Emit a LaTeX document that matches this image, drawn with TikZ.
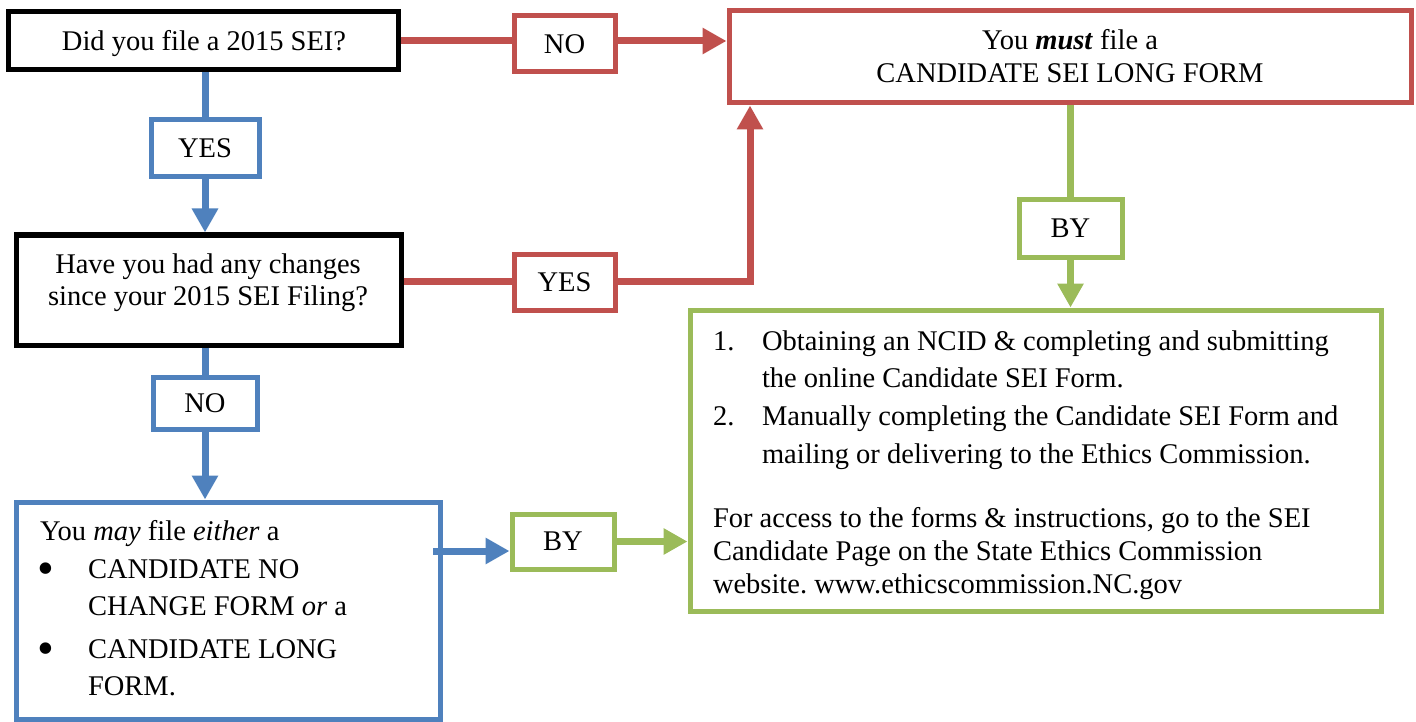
\documentclass[tikz,border=0pt]{standalone}
\usepackage{fontspec}
\setmainfont{Liberation Serif}
\usetikzlibrary{arrows.meta,fit,calc}
\definecolor{cred}{HTML}{C0504D}
\definecolor{cblue}{HTML}{4F81BD}
\definecolor{cgreen}{HTML}{9BBB59}
\frenchspacing
\begin{document}
\begin{tikzpicture}[x=1pt,y=-1pt,
  every node/.style={font=\fontsize{28.5}{34}\selectfont, inner sep=0pt, outer sep=0pt},
  box/.style={draw=#1, line width=5pt, fill=white, inner sep=0pt, outer sep=2.5pt},
  conn/.style={draw=#1, line width=7pt},
  arr/.style={conn=#1, -{Triangle[length=24pt,width=25pt]}},
  txt/.style={anchor=base},
  ltxt/.style={anchor=base west},
  lbl/.style={anchor=center},
  bul/.style={anchor=center, font=\fontsize{48}{48}\selectfont}]
\useasboundingbox (0,0) rectangle (1416,722);
% left column
\node[box=black, fit={(8,12)(398,70)}] (q1) {};
\node[txt] (q1t) at (204,51) {Did you file a 2015 SEI?};
\node[box=cblue, fit={(151,120)(259,177)}] (yb) {};
\node[lbl] (ybt) at (yb.center) {YES};
\node[box=black, fit={(16,235)(401,345)}] (q2) {};
\node[txt] (q2a) at (208,273) {Have you had any changes};
\node[txt] (q2b) at (208,305) {since your 2015 SEI Filing?};
\node[box=cblue, fit={(153,377)(257,429)}] (nb) {};
\node[lbl] (nbt) at (nb.center) {NO};
\node[box=cblue, fit={(16,502)(440,719)}] (opt) {};
\node[ltxt] (o0) at (40,540) {You \textit{may} file \textit{either} a};
\node[bul] (ob1) at (46,574) {\textbullet};
\node[ltxt] (o1) at (88,578) {CANDIDATE NO};
\node[ltxt] (o2) at (88,615) {CHANGE FORM \textit{or} a};
\node[bul] (ob2) at (46,654) {\textbullet};
\node[ltxt] (o3) at (88,658) {CANDIDATE LONG};
\node[ltxt] (o4) at (88,695) {FORM.};
% middle labels
\node[box=cred, fit={(514,16)(615,72)}] (nr) {};
\node[lbl] (nrt) at (nr.center) {NO};
\node[box=cred, fit={(514,254)(615,310)}] (yr) {};
\node[lbl] (yrt) at (yr.center) {YES};
\node[box=cgreen, fit={(512,514)(614,569)}] (bg2) {};
\node[lbl] (bg2t) at (bg2.center) {BY};
% right column
\node[box=cred, fit={(729,11)(1411,103)}] (must) {};
\node[txt] (m1) at (1070,50) {You \textbf{\textit{must}} file a};
\node[txt] (m2) at (1070,83) {CANDIDATE SEI LONG FORM};
\node[box=cgreen, fit={(1019,200)(1122,257)}] (bg1) {};
\node[lbl] (bg1t) at (bg1.center) {BY};
\node[box=cgreen, fit={(690,310)(1381,611)}] (how) {};
\node[ltxt] (n1) at (713,350) {1.};
\node[ltxt] (h1) at (762,350) {Obtaining an NCID \& completing and submitting};
\node[ltxt] (h2) at (762,387) {the online Candidate SEI Form.};
\node[ltxt] (n2) at (713,425) {2.};
\node[ltxt] (h3) at (762,425) {Manually completing the Candidate SEI Form and};
\node[ltxt] (h4) at (762,463) {mailing or delivering to the Ethics Commission.};
\node[ltxt] (p1) at (713,527) {For access to the forms \& instructions, go to the SEI};
\node[ltxt] (p2) at (713,560) {Candidate Page on the State Ethics Commission};
\node[ltxt] (p3) at (713,593) {website. www.ethicscommission.NC.gov};
% connectors
\draw[conn=cblue] (yb.north |- q1.south) -- (yb.north);
\draw[arr=cblue] (yb.south) -- (yb.south |- q2.north);
\draw[conn=cblue] (nb.north |- q2.south) -- (nb.north);
\draw[arr=cblue] (nb.south) -- (nb.south |- opt.north);
\coordinate (ostart) at (433,551);
\draw[arr=cblue] (ostart) -- (ostart -| bg2.west);
\draw[arr=cgreen] (bg2.east) -- (bg2.east -| how.west);
\draw[conn=cred] (q1.east) -- (q1.east -| nr.west);
\draw[arr=cred] (nr.east |- q1.east) -- (q1.east -| must.west);
\coordinate (yline) at (0,281);
\draw[conn=cred] (yline -| q2.east) -- (yline -| yr.west);
\coordinate (upx) at (750,0);
\draw[arr=cred] (yline -| yr.east) -| (must.south -| upx);
\draw[conn=cgreen] (must.south -| bg1.north) -- (bg1.north);
\draw[arr=cgreen] (bg1.south) -- (bg1.south |- how.north);
\end{tikzpicture}
\end{document}
